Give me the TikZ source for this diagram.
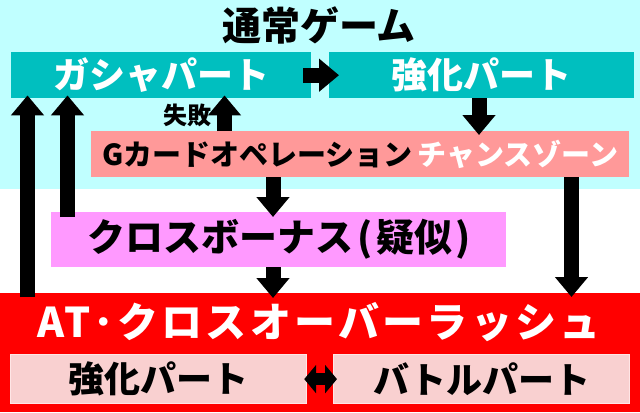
\documentclass[tikz,border=0pt]{standalone}
\usepackage{fontspec}
\setmainfont{Noto Sans CJK JP}[BoldFont={Noto Sans CJK JP Black}]
\usetikzlibrary{arrows.meta,positioning}
\definecolor{SkyBg}{HTML}{C0FFFF}
\definecolor{TealBox}{HTML}{00BFBF}
\definecolor{Salmon}{HTML}{FF9999}
\definecolor{Orchid}{HTML}{FF99FF}
\definecolor{RushRed}{HTML}{FF0000}
\definecolor{PalePink}{HTML}{F9D0D0}
\definecolor{PaleEdge}{HTML}{FFE6E6}

\begin{document}
\begin{tikzpicture}[x=1bp,y=-1bp,
    partbox/.style={anchor=north west,inner sep=0pt,text=white,
      font=\bfseries\fontsize{36bp}{38bp}\selectfont},
    rushbox/.style={anchor=north west,inner sep=0pt,fill=PalePink,draw=PaleEdge,
      line width=1.2bp,minimum width=296bp,minimum height=49bp,
      font=\bfseries\fontsize{36bp}{38bp}\selectfont},
    bigarrow/.style={line width=15bp,-{Triangle[width=32bp,length=20bp]}},
    twinarrow/.style={line width=12bp,{Triangle[width=28bp,length=12bp]}-{Triangle[width=28bp,length=12bp]}}]
  \useasboundingbox (0,0) rectangle (640,412);
  % backgrounds
  \fill[SkyBg] (0,0) rectangle (640,189);
  \fill[RushRed] (0,293) rectangle (640,412);

  % normal game
  \node[font=\bfseries\fontsize{39bp}{40bp}\selectfont] (normal) at (319,25) {通常ゲーム};
  \node[partbox,fill=TealBox,minimum width=300bp,minimum height=46bp] (gacha) at (11,52) {ガシャパート};
  \node[partbox,fill=TealBox,minimum width=305bp,minimum height=46bp] (boost) at (329,52) {強化パート};
  \node[partbox,fill=Salmon,text=black,minimum width=538bp,minimum height=46bp,
    font=\bfseries\fontsize{29bp}{32bp}\selectfont] (gcard) at (91,131)
    {Gカードオペレーション\,\textcolor{white}{チャンスゾーン}};
  \node[partbox,fill=Orchid,text=black,minimum width=455bp,minimum height=55bp,
    font=\bfseries\fontsize{38bp}{40bp}\selectfont] (cross) at (51,212)
    {クロスボーナス\hspace{5bp}(\hspace{3bp}疑似\hspace{3bp})};

  % AT
  \coordinate (rushtop) at (0,293);
  \node[text=white,font=\bfseries\fontsize{41bp}{42bp}\selectfont\addfontfeatures{LetterSpace=8}] (rush) at (319,322) {AT･クロスオーバーラッシュ};
  \node[rushbox] (rboost) at (10,354) {強化パート};
  \node[rushbox] (battle) at (333,354) {バトルパート};

  \node[font=\bfseries\fontsize{24bp}{26bp}\selectfont] (fail) at (187,115) {失敗};

  % arrow columns
  \coordinate (leftcol) at (27.5,297);
  \coordinate (crosscol) at (67.5,217);
  \coordinate (failcol) at (224.5,0);
  \coordinate (boostcol) at (479,0);
  \coordinate (midcol) at (273,0);
  \coordinate (rightcol) at (571.5,0);

  % connectors
  \draw[bigarrow,shorten >=-3bp] (leftcol) -- (leftcol |- gacha.south);
  \draw[bigarrow,shorten >=-3bp] (crosscol) -- (crosscol |- gacha.south);
  \draw[bigarrow,shorten >=-3bp] (failcol |- gcard.north) -- (failcol |- gacha.south);
  \draw[bigarrow,shorten <=-8bp,shorten >=-10bp] (gacha.east) -- (boost.west);
  \draw[bigarrow,shorten >=-4bp] (boostcol |- boost.south) -- (boostcol |- gcard.north);
  \draw[bigarrow,shorten >=-5bp] (midcol |- gcard.south) -- (midcol |- cross.north);
  \draw[bigarrow,shorten >=-5bp] (midcol |- cross.south) -- (midcol |- rushtop);
  \draw[bigarrow,shorten >=-4bp] (rightcol |- gcard.south) -- (rightcol |- rushtop);
  \draw[twinarrow] ([xshift=-3bp]rboost.east) -- ([xshift=4bp]battle.west);
\end{tikzpicture}
\end{document}
